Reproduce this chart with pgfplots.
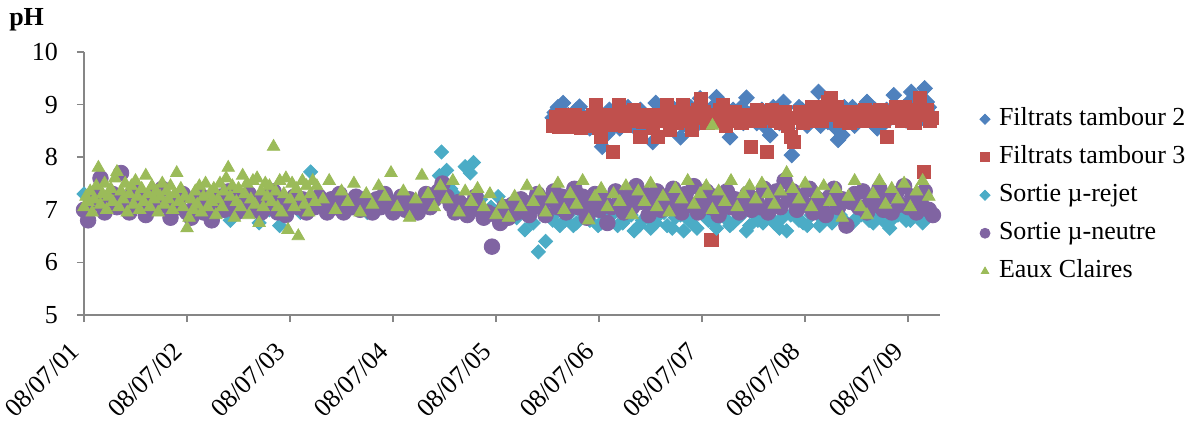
\documentclass[border=0pt]{standalone}
\usepackage{fontspec}
\setmainfont{Liberation Serif}
\usepackage{pgfplots}
\pgfplotsset{compat=1.18}

\definecolor{tbdeux}{HTML}{4F81BD}
\definecolor{tbtrois}{HTML}{C0504D}
\definecolor{rejet}{HTML}{4BACC6}
\definecolor{neutre}{HTML}{8064A2}
\definecolor{claires}{HTML}{9BBB59}
\definecolor{axisgray}{HTML}{868686}

% smaller markers in the legend
\pgfplotsset{
    smallleg/.style={legend image code/.code={\draw[##1, mark size=#1] plot coordinates {(0.2cm,0cm)};
        \path[draw=none, fill=none] (0.2cm,0cm) -- ++(5pt,0pt);}},
}

\begin{document}
\begin{tikzpicture}
\begin{axis}[
    scale only axis,
    width=428pt, height=131.5pt,
    xmin=0, xmax=8.31,
    ymin=5, ymax=10,
    ytick={5,6,7,8,9,10},
    xtick={0,1,2,3,4,5,6,7,8},
    xticklabels={08/07/01,08/07/02,08/07/03,08/07/04,08/07/05,08/07/06,08/07/07,08/07/08,08/07/09},
    axis lines*=left,
    axis line style={axisgray, line width=0.8pt},
    tick style={axisgray, line width=0.8pt},
    tick align=outside,
    major tick length=3.5pt,
    /pgf/number format/assume math mode=true,
    tick label style={font=\fontsize{13}{15}\selectfont},
    x tick label style={xshift=-2.2pt, yshift=-10.2pt, rotate=45, anchor=east},
    y tick label style={xshift=-6pt},
    clip=false,
    legend style={at={(axis description cs:1.039,0.822)}, anchor=north west,
        draw=none, fill=none, font=\fontsize{13}{15}\selectfont, row sep=3pt,
        nodes={text height=9pt, text depth=3pt}},
    legend cell align=left,
]
\coordinate (bbsw) at (rel axis cs:-0.0981,-0.4106);
\coordinate (bbne) at (rel axis cs:1.300,1.1977);
\node[anchor=center, font=\fontsize{13}{15}\selectfont\bfseries] at (rel axis cs:-0.067,1.122) {pH};

% Filtrats tambour 2
\addplot[only marks, mark=square*, mark size=2.75pt, mark options={rotate=45, fill=tbdeux, draw=tbdeux}, smallleg=1.8pt]
coordinates {
(4.55,8.75) (4.60,8.95) (4.65,9.03) (4.70,8.80) (4.75,8.65) (4.81,8.96) (4.86,8.75) (4.91,8.55)
(4.96,8.70) (5.03,8.20) (5.08,8.45) (5.13,8.57) (5.18,8.85) (5.23,8.70) (5.28,8.95) (5.33,8.60)
(5.38,8.80) (5.43,8.50) (5.47,8.70) (5.52,8.29) (5.55,9.03) (5.60,8.85) (5.65,8.65) (5.69,8.90)
(5.73,8.71) (5.79,8.38) (5.84,8.80) (5.89,8.95) (5.94,8.60) (5.98,9.12) (6.03,8.85) (6.08,8.70)
(6.14,9.14) (6.19,8.90) (6.23,8.60) (6.27,8.38) (6.33,8.80) (6.38,8.95) (6.43,9.13) (6.48,8.85)
(6.53,8.65) (6.58,8.90) (6.62,8.70) (6.66,8.42) (6.71,8.85) (6.75,8.65) (6.79,9.05) (6.83,8.55)
(6.87,8.04) (6.92,8.75) (6.97,8.90) (7.02,8.60) (7.08,8.71) (7.13,9.24) (7.18,8.95) (7.22,8.67)
(7.27,8.85) (7.32,8.33) (7.36,8.42) (7.41,8.80) (7.46,8.95) (7.51,8.70) (7.56,8.85) (7.60,9.05)
(7.65,8.75) (7.70,8.55) (7.74,8.60) (7.79,8.90) (7.83,8.75) (7.86,9.18) (7.91,8.85) (7.96,8.95)
(8.01,9.05) (8.03,9.24) (8.08,8.90) (8.12,9.10) (8.16,9.31) (8.20,8.95)
(4.57,8.85) (4.68,8.70) (4.78,8.90) (4.88,8.60) (4.99,8.75) (5.10,8.90) (5.20,8.55) (5.30,8.75)
(5.40,8.90) (5.50,8.60) (5.62,8.75) (5.71,8.95) (5.81,8.60) (5.91,8.80) (6.00,8.70) (6.10,8.95)
(6.21,8.75) (6.30,8.90) (6.40,8.65) (6.50,8.75) (6.60,8.60) (6.69,8.95) (6.77,8.80) (6.85,8.70)
(6.94,8.95) (7.05,8.80) (7.15,8.60) (7.24,8.90) (7.30,8.55) (7.38,8.95) (7.48,8.60) (7.58,8.75)
(7.68,8.90) (7.77,8.65) (7.88,8.80) (7.98,8.70) (8.05,8.85) (8.14,8.75) (8.18,9.05) (8.22,8.80)
};
\addlegendentry{Filtrats tambour 2}

% Filtrats tambour 3
\addplot[only marks, mark=square*, mark size=3.3pt, mark options={fill=tbtrois, draw=tbtrois}, smallleg=2.2pt]
coordinates {
(4.55,8.60) (4.58,8.76) (4.61,8.57) (4.64,8.80) (4.67,8.65) (4.70,8.75) (4.73,8.57) (4.76,8.80)
(4.79,8.70) (4.82,8.55) (4.85,8.65) (4.88,8.75) (4.91,8.60) (4.94,8.80) (4.97,8.99) (5.00,8.55)
(5.02,8.38) (5.05,8.70) (5.08,8.80) (5.11,8.62) (5.13,8.10) (5.16,8.70) (5.19,8.99) (5.22,8.75)
(5.25,8.60) (5.28,8.85) (5.31,8.70) (5.34,8.90) (5.37,8.80) (5.40,8.38) (5.43,8.67) (5.46,8.80)
(5.49,8.67) (5.52,8.55) (5.55,8.75) (5.57,8.38) (5.60,8.80) (5.63,8.70) (5.66,8.99) (5.69,8.52)
(5.72,8.80) (5.75,8.65) (5.78,8.85) (5.81,8.99) (5.84,8.84) (5.87,8.70) (5.90,8.52) (5.93,8.75)
(5.96,8.90) (5.99,9.10) (6.02,8.85) (6.05,8.65) (6.09,6.43) (6.11,8.80) (6.14,8.70) (6.17,8.90)
(6.20,8.99) (6.23,8.60) (6.26,8.80) (6.29,8.70) (6.32,8.85) (6.35,8.75) (6.38,8.65) (6.41,8.80)
(6.44,8.70) (6.47,8.20) (6.50,8.80) (6.53,8.90) (6.56,8.70) (6.59,8.85) (6.63,8.10) (6.65,8.75)
(6.68,8.90) (6.71,8.70) (6.74,8.80) (6.77,8.65) (6.80,8.85) (6.83,8.60) (6.86,8.38) (6.89,8.29)
(6.92,8.75) (6.95,8.85) (6.98,8.65) (7.01,8.80) (7.04,8.70) (7.07,8.95) (7.10,8.75) (7.13,8.85)
(7.16,8.70) (7.19,8.95) (7.22,9.05) (7.25,9.12) (7.28,8.80) (7.31,8.95) (7.34,8.70) (7.37,8.85)
(7.40,8.75) (7.43,8.65) (7.46,8.85) (7.49,8.75) (7.52,8.80) (7.55,8.70) (7.58,8.90) (7.61,8.75)
(7.64,8.85) (7.67,8.70) (7.70,8.80) (7.73,8.90) (7.76,8.70) (7.79,8.38) (7.82,8.75) (7.85,8.85)
(7.88,8.95) (7.91,8.80) (7.94,8.70) (7.97,8.95) (8.00,8.85) (8.03,8.75) (8.06,8.65) (8.09,8.90)
(8.11,9.12) (8.14,8.80) (8.15,7.72) (8.18,8.90) (8.21,8.70) (8.23,8.75)
};
\addlegendentry{Filtrats tambour 3}

% Sortie mu-rejet
\addplot[only marks, mark=square*, mark size=2.5pt, mark options={rotate=45, fill=rejet, draw=rejet}, smallleg=1.8pt]
coordinates {
(0.00,7.30) (0.10,7.10) (0.20,7.00) (0.30,7.20) (0.40,7.05) (0.50,7.15) (0.60,6.95) (0.70,7.25)
(0.80,7.05) (0.90,7.10) (1.00,6.95) (1.10,7.20) (1.20,7.00) (1.30,7.15) (1.42,6.80) (1.50,7.05)
(1.60,7.20) (1.70,6.75) (1.80,7.00) (1.90,6.70) (2.00,7.10) (2.10,6.95) (2.20,7.72) (2.30,7.15)
(2.36,7.00) (2.45,7.20) (2.55,7.05) (2.65,7.15) (2.75,6.95) (2.85,7.10) (2.95,7.25) (3.05,7.00)
(3.15,7.15) (3.25,7.05) (3.35,7.25) (3.45,7.65) (3.47,8.10) (3.52,7.75) (3.56,7.40) (3.62,7.25)
(3.70,7.82) (3.75,7.70) (3.78,7.90) (3.85,7.20) (3.95,7.05) (4.02,7.25) (4.10,6.95) (4.20,6.85)
(4.28,6.62) (4.36,6.75) (4.41,6.20) (4.48,6.40) (4.55,6.80) (4.62,6.70) (4.70,6.90) (4.78,6.75)
(4.86,6.85) (4.94,6.95) (5.02,6.75) (5.10,6.90) (5.18,6.70) (5.26,6.85) (5.34,6.60) (5.42,6.80)
(5.50,6.65) (5.58,6.90) (5.66,6.70) (5.74,6.85) (5.82,6.60) (5.90,6.75) (5.98,6.95) (6.06,6.80)
(6.14,6.65) (6.22,6.85) (6.30,6.75) (6.38,6.90) (6.46,6.70) (6.54,6.80) (6.62,6.95) (6.70,6.75)
(6.78,6.85) (6.82,6.60) (6.90,6.95) (6.98,6.75) (7.06,6.90) (7.14,6.70) (7.22,6.85) (7.30,6.95)
(7.38,6.80) (7.46,6.75) (7.54,6.90) (7.62,6.80) (7.70,6.95) (7.78,6.75) (7.86,6.85) (7.94,7.00)
(8.02,6.80) (8.10,6.95) (8.18,6.85) (8.24,6.90)
(4.59,6.95) (4.67,6.80) (4.75,6.70) (4.83,6.95) (4.91,6.80) (4.99,6.70) (5.07,6.85) (5.15,6.95)
(5.23,6.75) (5.31,6.90) (5.39,6.70) (5.47,6.85) (5.55,6.75) (5.63,6.95) (5.71,6.65) (5.79,6.90)
(5.87,6.80) (5.95,6.65) (6.03,6.90) (6.11,6.75) (6.19,6.95) (6.27,6.70) (6.35,6.85) (6.43,6.60)
(6.51,6.90) (6.59,6.75) (6.67,6.85) (6.75,6.65) (6.86,6.90) (6.94,6.80) (7.02,6.70) (7.10,6.95)
(7.18,6.80) (7.26,6.75) (7.34,6.90) (7.42,6.70) (7.50,6.85) (7.58,6.95) (7.66,6.75) (7.74,6.85)
(7.82,6.65) (7.90,6.90) (7.98,6.80) (8.06,6.95) (8.14,6.75) (8.21,7.00)
};
\addlegendentry{Sortie µ-rejet}

% Sortie mu-neutre
\addplot[only marks, mark=*, mark size=3.9pt, mark options={fill=neutre, draw=neutre}, smallleg=2.5pt]
coordinates {
(0.00,7.00) (0.04,6.80) (0.08,7.10) (0.12,7.25) (0.16,7.60) (0.20,6.95) (0.24,7.15) (0.28,7.30)
(0.32,7.05) (0.36,7.70) (0.40,7.20) (0.44,6.95) (0.48,7.35) (0.52,7.10) (0.56,7.25) (0.60,6.90)
(0.64,7.15) (0.68,7.30) (0.72,7.05) (0.76,7.40) (0.80,7.10) (0.84,6.85) (0.88,7.20) (0.92,7.05)
(0.96,7.30) (1.00,6.95) (1.04,6.85) (1.08,7.15) (1.12,7.30) (1.16,6.95) (1.20,7.10) (1.24,6.80)
(1.28,7.05) (1.32,7.25) (1.36,7.00) (1.40,7.35) (1.44,7.10) (1.48,6.95) (1.52,7.20) (1.56,7.05)
(1.60,7.30) (1.64,7.00) (1.68,7.15) (1.72,6.95) (1.76,7.25) (1.80,7.05) (1.84,7.35) (1.88,6.95)
(1.92,7.20) (1.96,6.90) (2.00,7.10) (2.04,7.25) (2.08,7.05) (2.12,7.20) (2.16,6.95) (2.20,7.15)
(2.24,7.05) (2.28,7.25) (2.32,7.10) (2.36,6.95) (2.40,7.20) (2.44,7.05) (2.48,7.30) (2.52,6.95)
(2.56,7.15) (2.60,7.05) (2.64,7.25) (2.68,7.00) (2.72,7.20) (2.76,7.10) (2.80,6.95) (2.84,7.20)
(2.88,7.05) (2.92,7.30) (2.96,7.15) (3.00,6.95) (3.04,7.10) (3.08,7.25) (3.12,7.00) (3.16,7.20)
(3.20,7.05) (3.24,6.95) (3.28,7.15) (3.32,7.30) (3.36,7.05) (3.40,7.20) (3.44,7.35) (3.48,7.50)
(3.52,7.25) (3.56,7.10) (3.60,6.95) (3.64,7.15) (3.68,7.05) (3.72,6.90) (3.76,7.10) (3.80,7.25)
(3.84,7.00) (3.88,6.85) (3.92,6.95) (3.96,6.30) (4.00,6.90) (4.04,6.75) (4.08,7.05) (4.12,6.85)
(4.16,7.10) (4.20,6.95) (4.24,7.20) (4.28,7.05) (4.32,6.90) (4.36,7.15) (4.40,7.30) (4.44,7.05)
(4.48,6.90) (4.52,7.20) (4.56,7.35) (4.60,7.05) (4.64,7.25) (4.68,6.95) (4.72,7.15) (4.76,7.40)
(4.80,7.05) (4.84,7.25) (4.88,6.85) (4.92,7.10) (4.96,7.30) (5.00,7.00) (5.04,7.20) (5.08,6.75)
(5.12,7.05) (5.16,7.35) (5.20,7.10) (5.24,6.95) (5.28,7.25) (5.32,7.05) (5.36,7.45) (5.40,7.15)
(5.44,7.30) (5.48,6.90) (5.52,7.10) (5.56,7.35) (5.60,7.00) (5.64,7.25) (5.68,7.05) (5.72,7.40)
(5.76,7.15) (5.80,6.95) (5.84,7.30) (5.88,7.10) (5.92,7.45) (5.96,6.95) (6.00,7.20) (6.04,7.35)
(6.08,7.05) (6.12,7.25) (6.16,6.90) (6.20,7.15) (6.24,7.35) (6.28,7.05) (6.32,7.20) (6.36,6.95)
(6.40,7.10) (6.44,7.30) (6.48,7.00) (6.52,7.20) (6.56,7.05) (6.60,7.40) (6.64,6.95) (6.68,7.15)
(6.72,7.35) (6.76,7.05) (6.80,7.55) (6.84,7.20) (6.88,7.35) (6.92,7.00) (6.96,7.25) (7.00,7.10)
(7.04,7.40) (7.08,6.95) (7.12,7.20) (7.16,7.05) (7.20,6.90) (7.24,7.25) (7.28,7.40) (7.32,7.05)
(7.36,7.20) (7.40,6.70) (7.44,7.15) (7.48,7.30) (7.52,7.05) (7.56,7.35) (7.60,6.95) (7.64,7.20)
(7.68,7.10) (7.72,7.40) (7.76,7.00) (7.80,7.25) (7.84,6.95) (7.88,7.30) (7.92,7.10) (7.96,7.45)
(8.00,7.05) (8.04,7.25) (8.08,6.95) (8.12,7.15) (8.16,7.35) (8.20,7.00) (8.24,6.90)
};
\addlegendentry{Sortie µ-neutre}

% Eaux Claires
\addplot[only marks, mark=triangle*, mark size=3.6pt, mark options={fill=claires, draw=claires}, smallleg=2.1pt]
coordinates {
(0.00,7.05) (0.02,7.25) (0.04,7.15) (0.06,7.35) (0.08,6.95) (0.10,7.20) (0.12,7.45) (0.14,7.80)
(0.16,7.10) (0.18,7.30) (0.20,7.50) (0.22,7.00) (0.24,7.25) (0.26,7.40) (0.28,7.15) (0.30,7.60)
(0.32,7.72) (0.34,7.05) (0.36,7.35) (0.38,7.20) (0.40,7.50) (0.42,6.95) (0.44,7.30) (0.46,7.45)
(0.48,7.10) (0.50,7.55) (0.52,7.25) (0.54,7.00) (0.56,7.40) (0.58,7.15) (0.60,7.65) (0.62,7.30)
(0.64,7.05) (0.66,7.45) (0.68,7.20) (0.70,7.35) (0.72,6.95) (0.74,7.25) (0.76,7.50) (0.78,7.10)
(0.80,7.35) (0.82,7.20) (0.84,7.45) (0.86,7.00) (0.88,7.30) (0.90,7.70) (0.92,7.15) (0.94,7.40)
(0.96,7.05) (0.98,7.25) (1.00,6.65) (1.02,6.85) (1.04,7.20) (1.06,7.00) (1.08,7.35) (1.10,7.10)
(1.12,7.45) (1.14,6.95) (1.16,7.25) (1.18,7.50) (1.20,7.05) (1.22,7.30) (1.24,7.15) (1.26,7.40)
(1.28,6.90) (1.30,7.20) (1.32,7.50) (1.34,7.05) (1.36,7.35) (1.38,7.60) (1.40,7.80) (1.42,7.25)
(1.44,7.45) (1.46,6.85) (1.48,7.15) (1.50,7.40) (1.52,7.05) (1.54,7.65) (1.56,7.30) (1.58,7.50)
(1.60,6.90) (1.62,7.20) (1.64,7.55) (1.66,7.10) (1.68,7.60) (1.70,6.75) (1.72,7.35) (1.74,7.05)
(1.76,7.50) (1.78,7.25) (1.80,7.45) (1.82,7.15) (1.84,8.20) (1.86,7.35) (1.88,7.05) (1.90,7.55)
(1.92,6.95) (1.94,7.30) (1.96,7.60) (1.98,6.62) (2.00,7.20) (2.02,7.50) (2.04,7.05) (2.06,7.40)
(2.08,6.50) (2.10,7.25) (2.12,7.55) (2.14,7.10) (2.16,7.45) (2.18,6.95) (2.20,7.30) (2.22,7.55)
(2.24,7.15)
(2.26,7.45) (2.32,7.20) (2.38,7.55) (2.44,7.00) (2.50,7.35) (2.56,7.15) (2.62,7.50) (2.68,6.95)
(2.74,7.30) (2.80,7.10) (2.86,7.45) (2.92,7.25) (2.98,7.70) (3.04,7.05) (3.10,7.35) (3.16,6.85)
(3.22,7.20) (3.28,7.65) (3.34,7.30) (3.40,7.05) (3.46,7.45) (3.52,7.20) (3.58,7.55) (3.64,6.95)
(3.70,7.35) (3.76,7.15) (3.82,7.40) (3.88,7.05) (3.94,7.30) (4.00,6.90) (4.06,7.10) (4.12,6.85)
(4.18,7.25) (4.24,7.05) (4.30,7.45) (4.36,7.15) (4.42,7.35) (4.48,6.95) (4.54,7.20) (4.60,7.50)
(4.66,7.00) (4.72,7.30) (4.78,7.10) (4.84,7.55) (4.90,6.80) (4.96,7.25) (5.02,7.40) (5.08,7.05)
(5.14,7.30) (5.20,7.15) (5.26,7.45) (5.32,6.90) (5.38,7.35) (5.44,7.15) (5.50,7.50) (5.56,7.05)
(5.62,7.25) (5.68,6.95) (5.74,7.40) (5.80,7.20) (5.86,7.55) (5.92,7.10) (5.98,7.30) (6.04,7.45)
(6.10,8.60) (6.10,7.00) (6.16,7.35) (6.22,7.15) (6.28,7.55) (6.34,7.05) (6.40,7.30) (6.46,7.45)
(6.52,7.20) (6.58,7.50) (6.64,7.30) (6.70,7.10) (6.76,7.35) (6.82,7.70) (6.88,7.40) (6.94,7.20)
(7.00,7.50) (7.06,7.05) (7.12,7.30) (7.18,7.45) (7.24,7.15) (7.30,7.40) (7.36,6.85) (7.42,7.25)
(7.48,7.55) (7.54,7.05) (7.60,6.90) (7.66,7.30) (7.72,7.55) (7.78,7.10) (7.84,7.40) (7.90,7.20)
(7.96,7.50) (8.02,7.05) (8.08,7.35) (8.14,7.55) (8.20,7.25)
};
\addlegendentry{Eaux Claires}
\end{axis}
\pgfresetboundingbox
\path[use as bounding box] (bbsw) rectangle (bbne);
\end{tikzpicture}
\end{document}
